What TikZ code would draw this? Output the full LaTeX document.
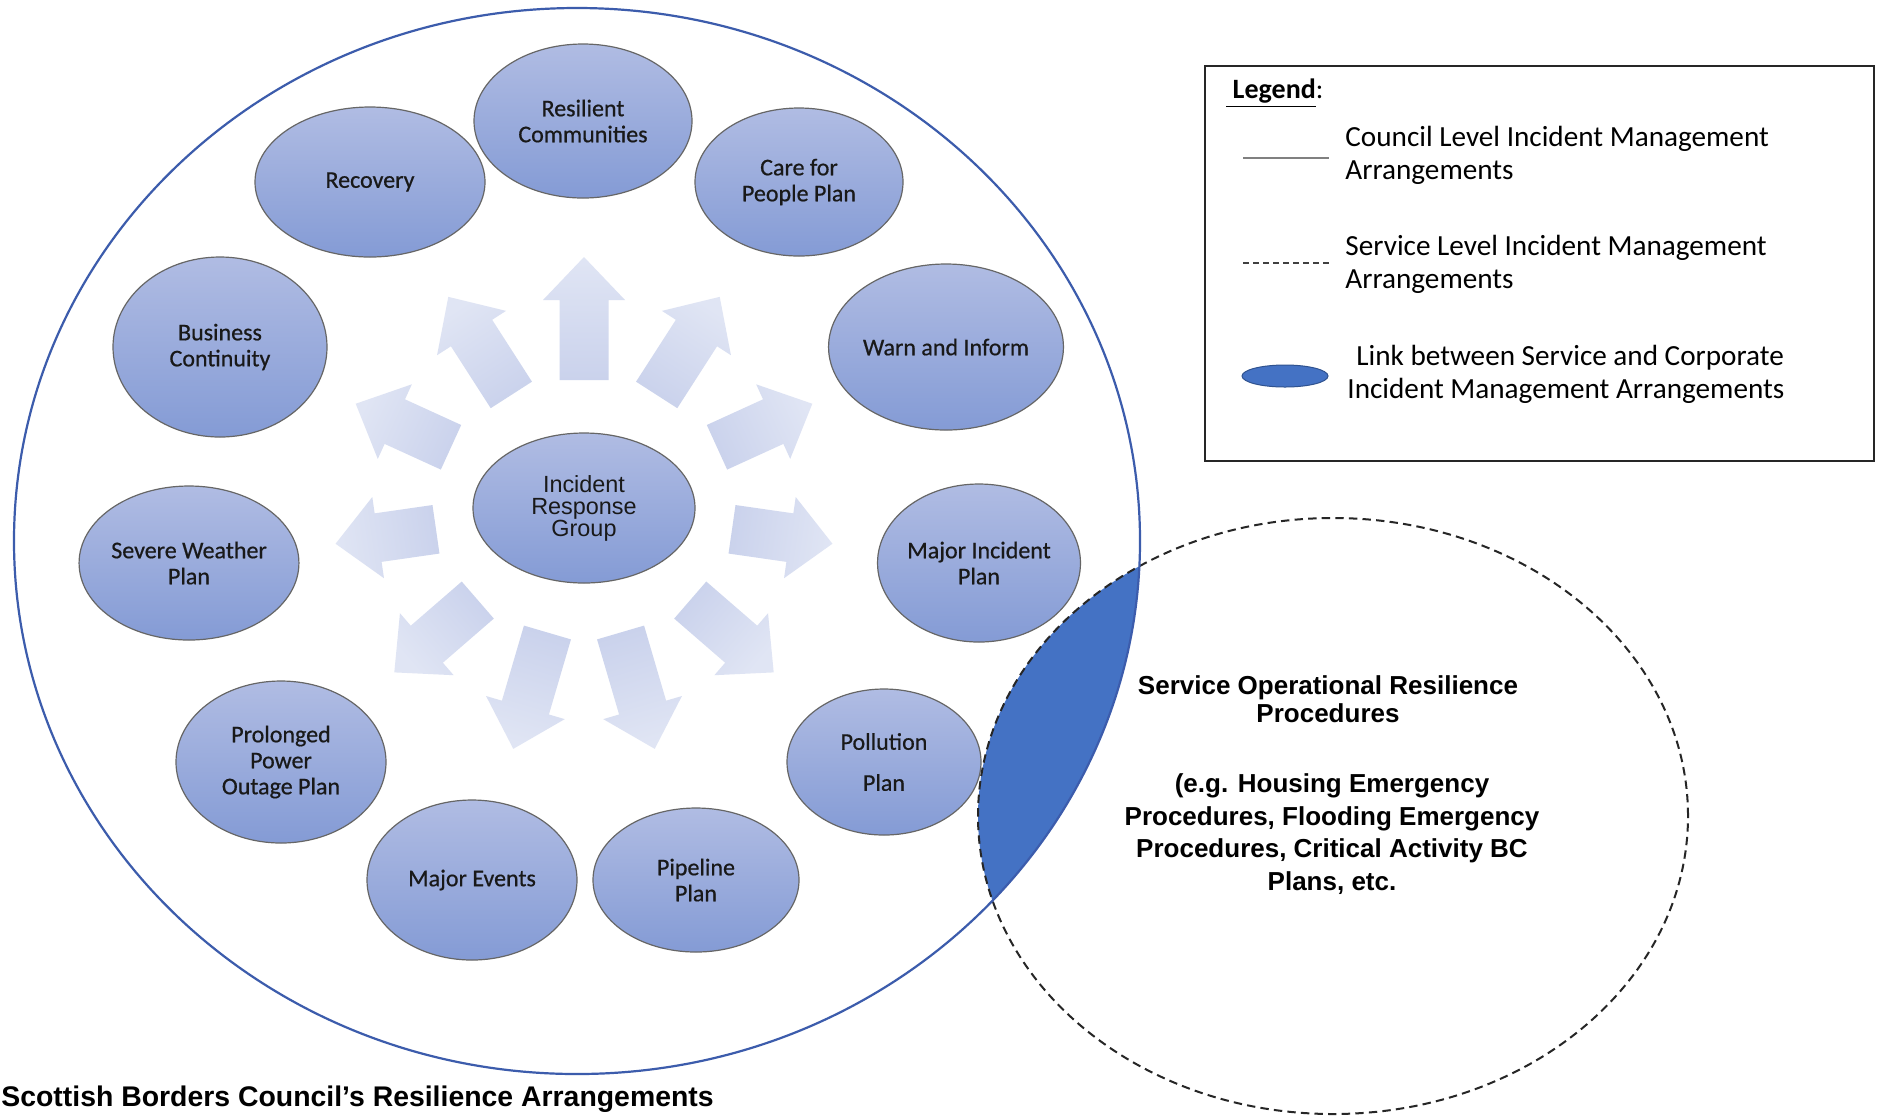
\documentclass[tikz,border=0pt]{standalone}
\usepackage{fontspec}
\setmainfont{Carlito}
\newfontfamily\planfont[FakeBold=0.6]{Carlito}
\newfontfamily\arialfont{Liberation Sans}
\usetikzlibrary{shapes.geometric}
\definecolor{elltop}{RGB}{176,188,227}
\definecolor{ellbot}{RGB}{132,155,213}
\definecolor{arrtip}{RGB}{224,229,244}
\definecolor{arrbase}{RGB}{202,210,236}
\definecolor{ringblue}{RGB}{60,92,172}
\definecolor{lensblue}{RGB}{68,114,196}
\definecolor{lensedge}{RGB}{47,82,143}
\begin{document}
\begin{tikzpicture}[x=0.5pt,y=0.5pt,
  plan/.style 2 args={ellipse, draw=black!60, line width=0.6pt, top color=elltop, bottom color=ellbot,
    minimum width=#1pt, minimum height=#2pt, inner sep=0pt, align=center,
    font=\planfont\fontsize{12}{13}\selectfont, text=black!90},
  legtext/.style={anchor=west, align=left, inner sep=0pt, font=\fontsize{14.6}{16.5}\selectfont},
  svctext/.style={align=center, inner sep=0pt, font=\arialfont\bfseries\fontsize{13}{#1}\selectfont}]
\useasboundingbox (0,0) rectangle (1878,-1116);
\fill[white] (0,0) rectangle (1878,-1116);

% link lens (intersection of council ring and service circle)
\begin{scope}
  \clip (577,-541) ellipse [x radius=563, y radius=533];
  \fill[lensblue] (1333,-816) ellipse [x radius=355, y radius=298];
\end{scope}

% plans
\node[plan={109}{77}] (rc) at (583,-121) {Resilient\\Communities};
\node[plan={115}{75}] (rec) at (370,-182) {Recovery};
\node[plan={104}{74}] (care) at (799,-182) {Care for\\People Plan};
\node[plan={107}{90}] (bc) at (220,-347) {Business\\Continuity};
\node[plan={110}{83}] (warn) at (946,-347) {Warn and Inform};
\node[plan={102}{77}] (swp) at (189,-563) {Severe Weather\\Plan};
\node[plan={98}{79}] (mip) at (979,-563) {Major Incident\\Plan};
\node[plan={105}{81}] (ppop) at (281,-762) {Prolonged\\Power\\Outage Plan};
\node[plan={97}{73}] (poll) at (884,-762) {Pollution\\[7.5pt]Plan};
\node[plan={105}{80}] (mev) at (472,-880) {Major Events};
\node[plan={103}{72}] (pipe) at (696,-880) {Pipeline\\Plan};
\node[plan={111}{75}, font=\arialfont\fontsize{11.7}{11}\selectfont] (irg) at (584,-508) {Incident\\Response\\Group};

% radiating arrows
\foreach \k in {0,...,10}{
  \pgfmathsetmacro{\ang}{90-\k*360/11}
  \pgfmathsetmacro{\sang}{\ang-90}
  \pgfmathsetmacro{\rb}{128+22*cos(\ang)*cos(\ang)}
  \begin{scope}[shift={(irg.center)}, rotate=\ang]
    \shade[top color=arrtip, bottom color=arrbase, shading angle=\sang]
      (\rb,-24.5) -- (208,-24.5) -- (208,-41) -- (251,0) -- (208,41) -- (208,24.5) -- (\rb,24.5) -- cycle;
  \end{scope}
}

% service circle and council ring
\draw[black!85, line width=1pt, dash pattern=on 4.2pt off 2.6pt] (1333,-816) ellipse [x radius=355, y radius=298];
\draw[ringblue, line width=1.1pt] (577,-541) ellipse [x radius=563, y radius=533];

\node[svctext=13.75] (svctitle) at (1328,-699) {Service Operational Resilience\\Procedures};
\node[svctext=16.2] (svcex) at (1332,-834) {(e.g. Housing Emergency\\Procedures, Flooding Emergency\\Procedures, Critical Activity BC\\Plans, etc.};

% legend
\draw[black!85, line width=1pt] (1205,-66) rectangle (1874,-461);
\node[anchor=west, inner sep=0pt, font=\fontsize{14}{15}\selectfont] (legtitle) at (1226,-93) {\underline{\bfseries\ Legend}:};
\draw[gray, line width=1.2pt] (1243,-158) -- (1329,-158);
\draw[black!75, line width=0.8pt, dash pattern=on 3pt off 2pt] (1243,-263) -- (1329,-263);
\fill[lensblue, draw=lensedge, line width=0.5pt] (1285,-376) ellipse [x radius=43, y radius=11];
\node[legtext] (leg1) at (1345,-155) {Council Level Incident Management\\Arrangements};
\node[legtext] (leg2) at (1345,-264) {Service Level Incident Management\\Arrangements};
\node[legtext] (leg3) at (1347,-374) {\hspace{4.5pt}Link between Service and Corporate\\Incident Management Arrangements};

% caption
\node[anchor=base west, inner sep=0pt, font=\arialfont\bfseries\fontsize{14.2}{17}\selectfont] (caption) at (1,-1106) {Scottish Borders Council’s Resilience Arrangements};
\end{tikzpicture}
\end{document}
